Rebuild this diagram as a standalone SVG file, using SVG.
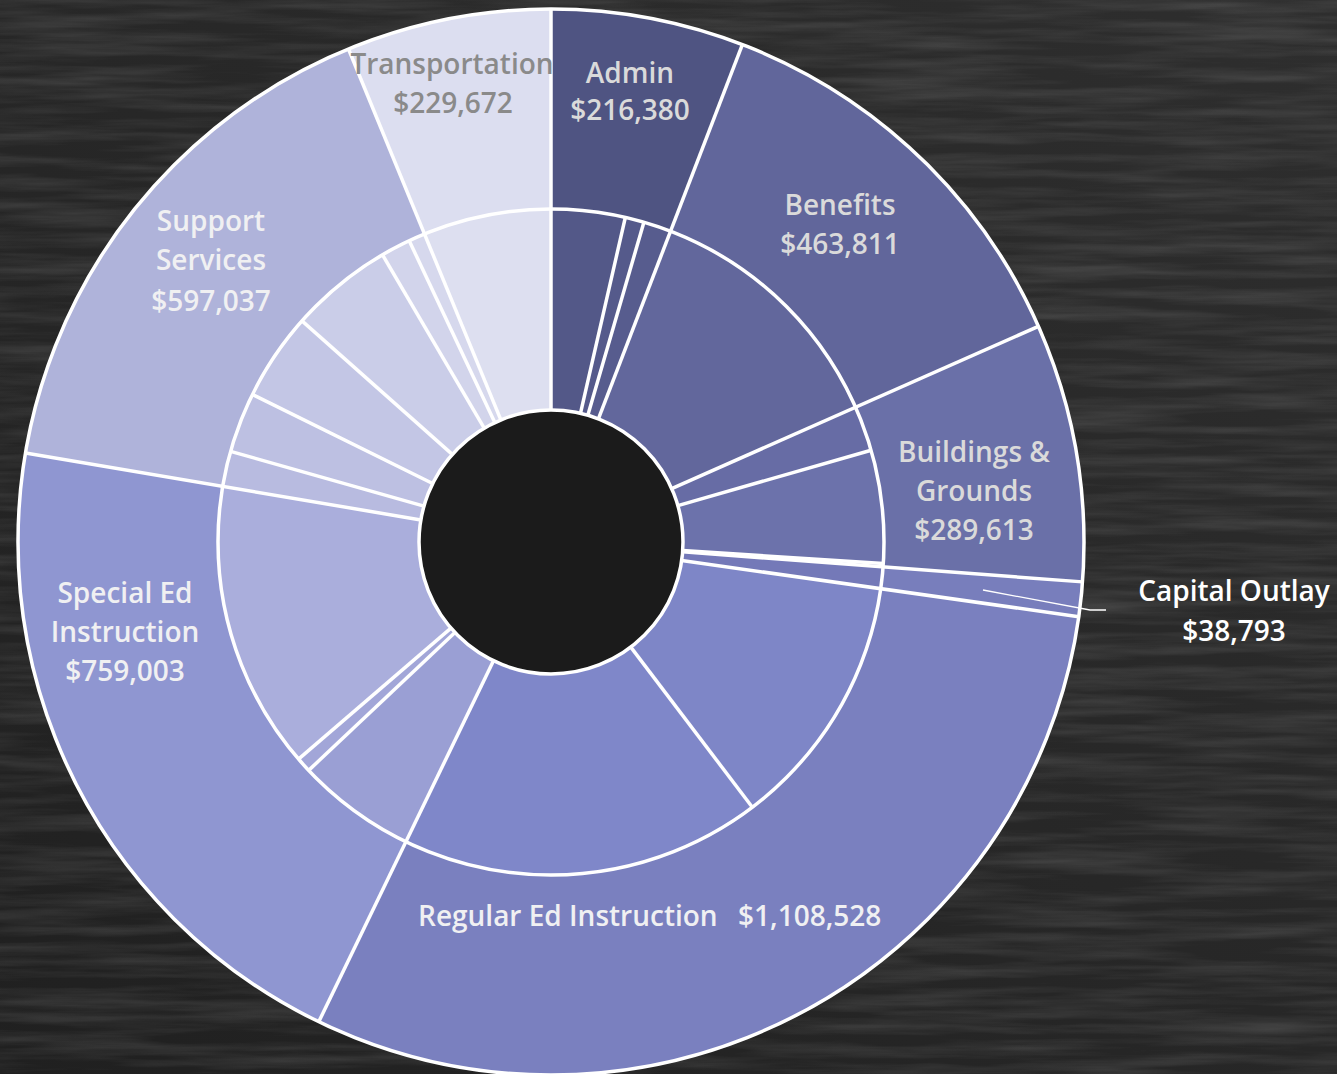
<svg xmlns="http://www.w3.org/2000/svg" width="1337" height="1074" viewBox="0 0 1337 1074">
  <defs>
    <filter id="chalk" x="0" y="0" width="100%" height="100%">
      <feTurbulence type="fractalNoise" baseFrequency="0.006 0.09" numOctaves="4" seed="7" result="n"/>
      <feColorMatrix in="n" type="matrix" values="0 0 0 0 1  0 0 0 0 1  0 0 0 0 1  0.22 0 0 0 -0.08"/>
    </filter>
    <linearGradient id="bg" x1="0" y1="1" x2="1" y2="0">
      <stop offset="0" stop-color="#202020"/>
      <stop offset="1" stop-color="#2e2e2e"/>
    </linearGradient>
    <style>
      .seg { fill: none; }
      .outer { stroke-width: 200; }
      .inner { stroke-width: 201; }
      .sep { stroke: #ffffff; stroke-width: 3.5; }
      .rim { fill: none; stroke: #ffffff; stroke-width: 3.5; }
      .lbl { font-family: "Open Sans", "Liberation Sans", sans-serif; font-weight: 600; font-size: 28px; text-anchor: middle; }
      .dk { fill: #dadada; }
      .lt { fill: #f0f0f2; }
      .gr { fill: #8a8a8a; }
      .wh { fill: #ffffff; }
      .lead { fill: none; stroke: #ffffff; stroke-width: 1.3; }
    </style>
  </defs>

  <rect x="0" y="0" width="1337" height="1074" fill="url(#bg)"/>
  <rect x="0" y="0" width="1337" height="1074" filter="url(#chalk)"/>

  <!-- outer ring -->
  <g id="admin"><circle class="seg outer" cx="551" cy="542" r="433" pathLength="360" stroke="#4f5482" stroke-dasharray="21.04 360" transform="rotate(-90 551 542)"/></g>
  <g id="benefits"><circle class="seg outer" cx="551" cy="542" r="433" pathLength="360" stroke="#61669b" stroke-dasharray="45.09 360" transform="rotate(-68.96 551 542)"/></g>
  <g id="buildings"><circle class="seg outer" cx="551" cy="542" r="433" pathLength="360" stroke="#6a70a8" stroke-dasharray="28.16 360" transform="rotate(-23.87 551 542)"/></g>
  <g id="capital"><circle class="seg outer" cx="551" cy="542" r="433" pathLength="360" stroke="#787ebc" stroke-dasharray="3.77 360" transform="rotate(4.29 551 542)"/></g>
  <g id="regular"><circle class="seg outer" cx="551" cy="542" r="433" pathLength="360" stroke="#7a80bf" stroke-dasharray="107.77 360" transform="rotate(8.06 551 542)"/></g>
  <g id="special"><circle class="seg outer" cx="551" cy="542" r="433" pathLength="360" stroke="#8f96d1" stroke-dasharray="73.79 360" transform="rotate(115.83 551 542)"/></g>
  <g id="support"><circle class="seg outer" cx="551" cy="542" r="433" pathLength="360" stroke="#afb3da" stroke-dasharray="58.05 360" transform="rotate(189.62 551 542)"/></g>
  <g id="transport"><circle class="seg outer" cx="551" cy="542" r="433" pathLength="360" stroke="#dcdef0" stroke-dasharray="22.33 360" transform="rotate(247.67 551 542)"/></g>

  <!-- inner ring -->
  <g id="admin-1"><circle class="seg inner" cx="551" cy="542" r="232.5" pathLength="360" stroke="#535888" stroke-dasharray="12.9 360" transform="rotate(-90 551 542)"/></g>
  <g id="admin-2"><circle class="seg inner" cx="551" cy="542" r="232.5" pathLength="360" stroke="#555a8b" stroke-dasharray="3.3 360" transform="rotate(-77.1 551 542)"/></g>
  <g id="admin-3"><circle class="seg inner" cx="551" cy="542" r="232.5" pathLength="360" stroke="#575c8e" stroke-dasharray="4.84 360" transform="rotate(-73.8 551 542)"/></g>
  <g id="benefits-1"><circle class="seg inner" cx="551" cy="542" r="232.5" pathLength="360" stroke="#62679c" stroke-dasharray="45.09 360" transform="rotate(-68.96 551 542)"/></g>
  <g id="buildings-1"><circle class="seg inner" cx="551" cy="542" r="232.5" pathLength="360" stroke="#676ca5" stroke-dasharray="7.87 360" transform="rotate(-23.87 551 542)"/></g>
  <g id="buildings-2"><circle class="seg inner" cx="551" cy="542" r="232.5" pathLength="360" stroke="#6c72ab" stroke-dasharray="19.7 360" transform="rotate(-16 551 542)"/></g>
  <g id="buildings-3"><circle class="seg inner" cx="551" cy="542" r="232.5" pathLength="360" stroke="#6f75ae" stroke-dasharray="0.59 360" transform="rotate(3.7 551 542)"/></g>
  <g id="capital-1"><circle class="seg inner" cx="551" cy="542" r="232.5" pathLength="360" stroke="#7479b8" stroke-dasharray="3.77 360" transform="rotate(4.29 551 542)"/></g>
  <g id="regular-1"><circle class="seg inner" cx="551" cy="542" r="232.5" pathLength="360" stroke="#7e86c7" stroke-dasharray="44.74 360" transform="rotate(8.06 551 542)"/></g>
  <g id="regular-2"><circle class="seg inner" cx="551" cy="542" r="232.5" pathLength="360" stroke="#7f87c9" stroke-dasharray="63.03 360" transform="rotate(52.8 551 542)"/></g>
  <g id="special-1"><circle class="seg inner" cx="551" cy="542" r="232.5" pathLength="360" stroke="#9a9fd4" stroke-dasharray="20.87 360" transform="rotate(115.83 551 542)"/></g>
  <g id="special-2"><circle class="seg inner" cx="551" cy="542" r="232.5" pathLength="360" stroke="#a2a6d8" stroke-dasharray="2.6 360" transform="rotate(136.7 551 542)"/></g>
  <g id="special-3"><circle class="seg inner" cx="551" cy="542" r="232.5" pathLength="360" stroke="#aaaedc" stroke-dasharray="50.32 360" transform="rotate(139.3 551 542)"/></g>
  <g id="support-1"><circle class="seg inner" cx="551" cy="542" r="232.5" pathLength="360" stroke="#b8bbe0" stroke-dasharray="6.18 360" transform="rotate(189.62 551 542)"/></g>
  <g id="support-2"><circle class="seg inner" cx="551" cy="542" r="232.5" pathLength="360" stroke="#bdc0e2" stroke-dasharray="10.5 360" transform="rotate(195.8 551 542)"/></g>
  <g id="support-3"><circle class="seg inner" cx="551" cy="542" r="232.5" pathLength="360" stroke="#c3c6e5" stroke-dasharray="15.3 360" transform="rotate(206.3 551 542)"/></g>
  <g id="support-4"><circle class="seg inner" cx="551" cy="542" r="232.5" pathLength="360" stroke="#cacde8" stroke-dasharray="18 360" transform="rotate(221.6 551 542)"/></g>
  <g id="support-5"><circle class="seg inner" cx="551" cy="542" r="232.5" pathLength="360" stroke="#d2d4eb" stroke-dasharray="5.2 360" transform="rotate(239.6 551 542)"/></g>
  <g id="support-6"><circle class="seg inner" cx="551" cy="542" r="232.5" pathLength="360" stroke="#d6d8ed" stroke-dasharray="2.87 360" transform="rotate(244.8 551 542)"/></g>
  <g id="transport-1"><circle class="seg inner" cx="551" cy="542" r="232.5" pathLength="360" stroke="#dddff0" stroke-dasharray="22.33 360" transform="rotate(247.67 551 542)"/></g>

  <!-- hole -->
  <circle cx="551" cy="542" r="132" fill="#1b1b1b"/>

  <!-- borders -->
  <g id="borders">
    <circle class="rim" cx="551" cy="542" r="132"/>
    <circle class="rim" cx="551" cy="542" r="333"/>
    <circle class="rim" cx="551" cy="542" r="533"/>
    <line class="sep" x1="551" y1="410" x2="551" y2="9" transform="rotate(0 551 542)"/>
    <line class="sep" x1="551" y1="410" x2="551" y2="9" transform="rotate(21.04 551 542)"/>
    <line class="sep" x1="551" y1="410" x2="551" y2="9" transform="rotate(66.13 551 542)"/>
    <line class="sep" x1="551" y1="410" x2="551" y2="9" transform="rotate(94.29 551 542)"/>
    <line class="sep" x1="551" y1="410" x2="551" y2="9" transform="rotate(98.06 551 542)"/>
    <line class="sep" x1="551" y1="410" x2="551" y2="9" transform="rotate(205.83 551 542)"/>
    <line class="sep" x1="551" y1="410" x2="551" y2="9" transform="rotate(279.62 551 542)"/>
    <line class="sep" x1="551" y1="410" x2="551" y2="9" transform="rotate(337.67 551 542)"/>
    <line class="sep" x1="551" y1="410" x2="551" y2="209" transform="rotate(12.9 551 542)"/>
    <line class="sep" x1="551" y1="410" x2="551" y2="209" transform="rotate(16.2 551 542)"/>
    <line class="sep" x1="551" y1="410" x2="551" y2="209" transform="rotate(74 551 542)"/>
    <line class="sep" x1="551" y1="410" x2="551" y2="209" transform="rotate(93.7 551 542)"/>
    <line class="sep" x1="551" y1="410" x2="551" y2="209" transform="rotate(142.8 551 542)"/>
    <line class="sep" x1="551" y1="410" x2="551" y2="209" transform="rotate(226.7 551 542)"/>
    <line class="sep" x1="551" y1="410" x2="551" y2="209" transform="rotate(229.3 551 542)"/>
    <line class="sep" x1="551" y1="410" x2="551" y2="209" transform="rotate(285.8 551 542)"/>
    <line class="sep" x1="551" y1="410" x2="551" y2="209" transform="rotate(296.3 551 542)"/>
    <line class="sep" x1="551" y1="410" x2="551" y2="209" transform="rotate(311.6 551 542)"/>
    <line class="sep" x1="551" y1="410" x2="551" y2="209" transform="rotate(329.6 551 542)"/>
    <line class="sep" x1="551" y1="410" x2="551" y2="209" transform="rotate(334.8 551 542)"/>
  </g>

  <!-- connectors -->
  <g id="connectors">
    <polyline class="lead" points="983,590 1090,610 1106,610"/>
  </g>

  <!-- labels -->
  <g id="labels">
    <text class="lbl gr" x="452" y="74">Transportation</text>
    <text class="lbl gr" x="453" y="113">$229,672</text>
    <text class="lbl dk" x="630" y="83">Admin</text>
    <text class="lbl dk" x="630" y="120">$216,380</text>
    <text class="lbl dk" x="840" y="215">Benefits</text>
    <text class="lbl dk" x="840" y="254">$463,811</text>
    <text class="lbl dk" x="974" y="462">Buildings &amp;</text>
    <text class="lbl dk" x="974" y="501">Grounds</text>
    <text class="lbl dk" x="974" y="540">$289,613</text>
    <text class="lbl wh" x="1234" y="601">Capital Outlay</text>
    <text class="lbl wh" x="1234" y="641">$38,793</text>
    <text class="lbl lt" x="418" y="926" style="text-anchor:start">Regular Ed Instruction</text>
    <text class="lbl lt" x="738" y="926" style="text-anchor:start">$1,108,528</text>
    <text class="lbl lt" x="125" y="603">Special Ed</text>
    <text class="lbl lt" x="125" y="642">Instruction</text>
    <text class="lbl lt" x="125" y="681">$759,003</text>
    <text class="lbl lt" x="211" y="231">Support</text>
    <text class="lbl lt" x="211" y="270">Services</text>
    <text class="lbl lt" x="211" y="311">$597,037</text>
  </g>
</svg>
